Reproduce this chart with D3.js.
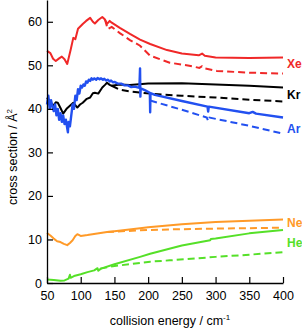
<!DOCTYPE html>
<html>
<head>
<meta charset="utf-8">
<script src="https://cdn.jsdelivr.net/npm/d3@7"></script>
<style>
  body { margin: 0; background: #fff; }
  svg { display: block; font-family: "Liberation Sans", Arial, sans-serif; }
</style>
</head>
<body>
<svg id="chart" width="302" height="328"></svg>
<script>
// collision energy (cm-1) and cross sections (A^2)
const xeE = [50, 55, 59, 63, 68, 72, 76, 80, 85, 89, 92, 96, 103, 108, 114, 118, 121, 126, 132, 136, 139, 143, 146, 158, 173, 188, 203, 228, 250, 275, 280, 284, 300, 350, 400];
const xeSolid = [53.3, 52.8, 51.5, 51.0, 51.6, 52.0, 51.4, 50.3, 53.5, 56.3, 56.0, 58.4, 59.5, 60.2, 60.9, 60.0, 59.6, 60.4, 61.1, 60.5, 59.5, 60.2, 59.8, 58.6, 57.2, 55.9, 54.9, 53.5, 52.7, 52.3, 52.7, 52.2, 51.8, 51.7, 51.8];
const xeDashE = [136, 140, 146, 158, 173, 188, 203, 232, 261, 276, 280, 284, 302, 351, 400];
const xeDash = [60.5, 58.3, 58.8, 57.4, 55.8, 54.5, 52.2, 50.6, 49.9, 49.4, 49.8, 49.3, 48.7, 48.3, 48.1];

const krE = [50, 55, 59, 63, 66, 70, 74, 79, 84, 89, 95, 99, 103, 109, 114, 118, 121, 126, 132, 136, 139, 143, 146, 158, 173, 200, 250, 300, 350, 400];
const krSolid = [42.6, 41.6, 40.7, 41.5, 41.4, 40.2, 38.9, 40.0, 40.7, 41.4, 40.3, 41.0, 41.4, 42.3, 42.6, 43.6, 43.7, 43.5, 44.9, 45.5, 46.0, 45.5, 45.3, 45.6, 45.5, 45.8, 45.9, 45.6, 45.3, 44.9];
const krDashE = [146, 158, 173, 203, 250, 300, 350, 400];
const krDash = [45.3, 44.4, 44.0, 43.5, 43.0, 42.6, 42.1, 41.7];

const arE = [50, 52, 54, 56, 58, 60, 62, 64, 66, 68, 70, 72, 74, 76, 78, 80, 81, 82, 84, 86, 88, 90, 92, 94, 96, 98, 100, 102, 104, 106, 108, 110, 112, 114, 116, 118, 120, 123, 125, 128, 130, 133, 135, 138, 140, 143, 145, 148, 150, 155, 160, 165, 170, 175, 180, 187, 188, 188.5, 189, 195, 202.5, 203, 203.5, 210, 250, 288, 289, 290, 350, 355, 360, 400];
const arSolid = [41.0, 43.0, 40.0, 42.0, 40.5, 39.5, 41.0, 38.5, 40.0, 37.5, 39.0, 37.0, 38.5, 36.5, 37.5, 35.5, 34.6, 37.0, 36.0, 38.5, 41.0, 40.0, 43.0, 42.0, 44.5, 43.5, 45.3, 44.9, 45.6, 45.3, 46.3, 46.0, 46.7, 46.4, 47.0, 46.7, 47.0, 46.7, 47.1, 46.8, 47.0, 46.7, 46.9, 46.5, 46.7, 46.3, 46.5, 46.1, 46.2, 45.8, 45.8, 45.4, 45.4, 45.0, 45.1, 44.8, 49.3, 42.8, 44.7, 44.3, 43.7, 39.2, 43.6, 43.2, 41.8, 40.5, 39.4, 40.5, 39.0, 39.3, 38.9, 38.0];
const arDashE = [203, 250, 287, 289, 291, 350, 400];
const arDash = [41.9, 39.8, 38.0, 37.2, 38.0, 36.1, 34.3];

const neE = [50, 55, 60, 65, 70, 75, 80, 84, 88, 92, 95, 98, 100, 110, 139, 150, 188, 200, 250, 300, 350, 400];
const neSolid = [11.5, 10.9, 10.2, 9.6, 9.4, 9.0, 8.7, 9.2, 9.8, 10.8, 11.2, 11.0, 10.8, 11.0, 11.7, 11.9, 12.6, 12.8, 13.5, 14.0, 14.3, 14.6];
const neDashE = [139, 150, 188, 230, 300, 400];
const neDash = [11.7, 11.8, 12.1, 12.3, 12.5, 12.7];

const heE = [50, 60, 70, 76, 82, 84, 85, 90, 100, 110, 120, 125, 126, 130, 150, 188, 203, 230, 250, 292, 293, 300, 350, 400];
const heSolid = [0.8, 0.7, 0.5, 0.6, 1.0, 1.9, 1.2, 1.6, 2.0, 2.5, 2.9, 3.4, 2.8, 3.3, 4.3, 6.0, 6.7, 7.8, 8.6, 9.8, 10.1, 10.2, 11.4, 12.2];
const heDashE = [129, 150, 188, 203, 232, 300, 350, 400];
const heDash = [3.3, 3.9, 4.6, 4.9, 5.2, 6.0, 6.5, 7.1];

const xTicks = [50, 100, 150, 200, 250, 300, 350, 400];
const yTicks = [0, 10, 20, 30, 40, 50, 60];

const series = [
  { name: "Xe", color: "#f02828", e: xeE, v: xeSolid, de: xeDashE, dv: xeDash, labelY: 64 },
  { name: "Kr", color: "#000000", e: krE, v: krSolid, de: krDashE, dv: krDash, labelY: 95 },
  { name: "Ar", color: "#2250f0", e: arE, v: arSolid, de: arDashE, dv: arDash, labelY: 129 },
  { name: "Ne", color: "#ff9a28", e: neE, v: neSolid, de: neDashE, dv: neDash, labelY: 223 },
  { name: "He", color: "#55e028", e: heE, v: heSolid, de: heDashE, dv: heDash, labelY: 243 }
];

const svg = d3.select("#chart");
const x = d3.scaleLinear().domain([50, 400]).range([47, 283]);
const y = d3.scaleLinear().domain([0, 65]).range([283, 0]);

const line = d3.line().x(d => x(d[0])).y(d => y(d[1]));

// dashed first, solid on top
series.forEach(s => {
  svg.append("path")
    .datum(d3.zip(s.de, s.dv))
    .attr("fill", "none")
    .attr("stroke", s.color)
    .attr("stroke-width", 2)
    .attr("stroke-dasharray", "7,4")
    .attr("d", line);
});
series.forEach(s => {
  svg.append("path")
    .datum(d3.zip(s.e, s.v))
    .attr("fill", "none")
    .attr("stroke", s.color)
    .attr("stroke-width", s.name === "Ar" ? 2.4 : 2)
    .attr("stroke-linejoin", "round")
    .attr("d", line);
});

// axes, ticks pointing inward
const xAxis = svg.append("g")
  .attr("transform", "translate(0,283)")
  .call(d3.axisBottom(x).tickValues(xTicks).tickSizeInner(-6).tickSizeOuter(0).tickPadding(8));
const yAxis = svg.append("g")
  .attr("transform", "translate(47,0)")
  .call(d3.axisLeft(y).tickValues(yTicks).tickSizeInner(-6).tickSizeOuter(0).tickPadding(5));

[xAxis, yAxis].forEach(g => {
  g.select(".domain").attr("stroke", "#000").attr("stroke-width", 1.3);
  g.selectAll(".tick line").attr("stroke", "#000").attr("stroke-width", 1.2);
  g.selectAll(".tick text").attr("fill", "#000").attr("font-size", 12.5)
    .attr("font-family", "Liberation Sans, Arial, sans-serif");
});

// series labels
svg.selectAll("text.lbl")
  .data(series)
  .enter().append("text")
  .attr("class", "lbl")
  .attr("x", 287)
  .attr("y", d => d.labelY)
  .attr("dy", "0.35em")
  .attr("font-size", 12)
  .attr("font-weight", "bold")
  .attr("fill", d => d.color)
  .text(d => d.name);

// axis titles
const xt = svg.append("text")
  .attr("x", 170)
  .attr("y", 325)
  .attr("text-anchor", "middle")
  .attr("font-size", 12.5)
  .text("collision energy / cm");
xt.append("tspan").attr("dy", -5).attr("font-size", 8).text("-1");

const yt = svg.append("text")
  .attr("transform", "translate(17,157) rotate(-90)")
  .attr("text-anchor", "middle")
  .attr("font-size", 12.5)
  .text("cross section / Å");
yt.append("tspan").attr("dy", -5).attr("font-size", 8).text("2");
</script>
</body>
</html>
